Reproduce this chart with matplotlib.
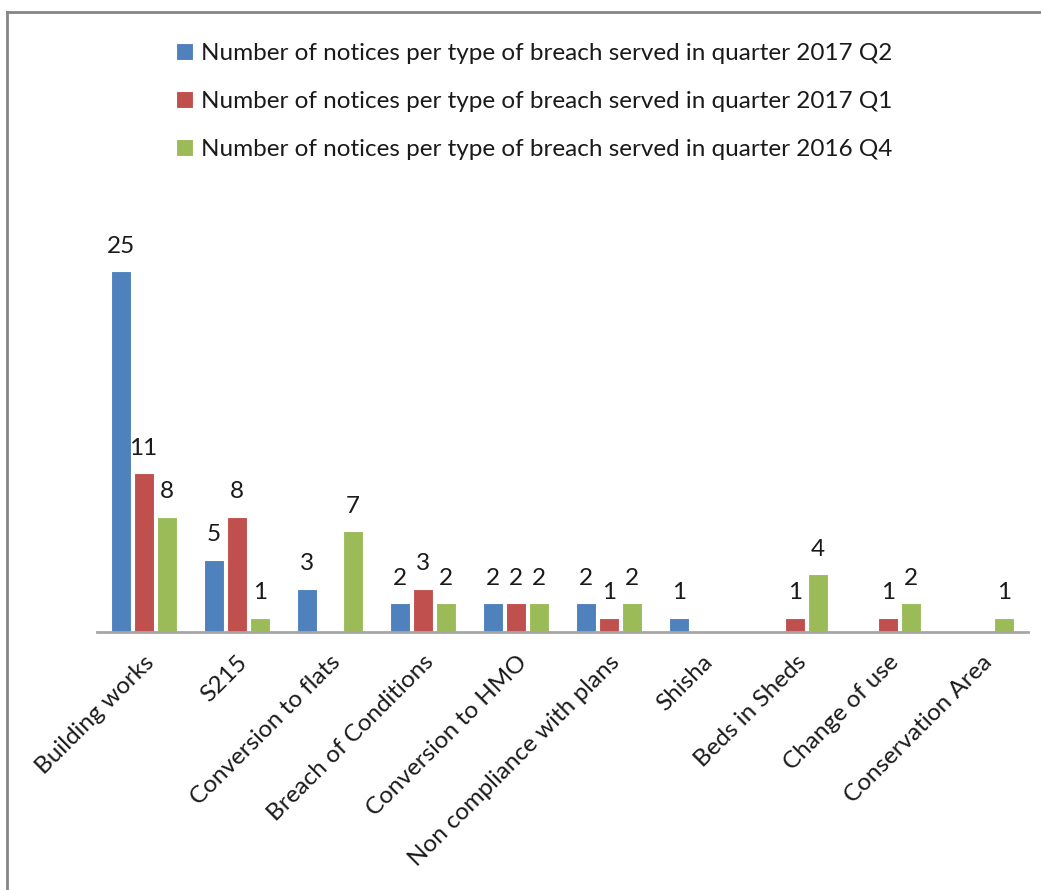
import numpy as np
import matplotlib.pyplot as plt
from matplotlib.lines import Line2D

categories = ["Building works", "S215", "Conversion to flats", "Breach of Conditions",
              "Conversion to HMO", "Non compliance with plans", "Shisha", "Beds in Sheds",
              "Change of use", "Conservation Area"]
q2_2017 = [25, 5, 3, 2, 2, 2, 1, 0, 0, 0]
q1_2017 = [11, 8, 0, 3, 2, 1, 0, 1, 1, 0]
q4_2016 = [8, 1, 7, 2, 2, 2, 0, 4, 2, 1]
series_names = ["Number of notices per type of breach served in quarter 2017 Q2",
                "Number of notices per type of breach served in quarter 2017 Q1",
                "Number of notices per type of breach served in quarter 2016 Q4"]
colors = ["#4F81BD", "#C0504D", "#9BBB59"]

plt.rcParams['font.family'] = ['Lato', 'DejaVu Sans']

fig = plt.figure(figsize=(10.41, 8.9), dpi=100)
ax = fig.add_axes([97/1041, 1 - 632/890, 931/1041, 433/890])

x = np.arange(len(categories))
step = 0.247
handles = []
for i, (vals, name, c) in enumerate(zip([q2_2017, q1_2017, q4_2016], series_names, colors)):
    pos = x + (i - 1) * step
    bars = ax.bar(pos, vals, width=0.215, color=c, edgecolor='white', linewidth=0.8, label=name)
    handles.append(bars)
    for p, v in zip(pos, vals):
        if v > 0:
            ax.text(p, v + 1.0, str(v), ha='center', va='bottom', fontsize=17.5, color='#1a1a1a')

ax.set_xlim(-0.5, len(categories) - 0.5)
ax.set_ylim(0, 30)
ax.set_yticks([])
for s in ['top', 'right', 'left']:
    ax.spines[s].set_visible(False)
ax.spines['bottom'].set_color('#a6a6a6')
ax.spines['bottom'].set_linewidth(2)
ax.set_xticks(x)
ax.set_xticklabels(categories, rotation=45, ha='right', rotation_mode='anchor',
                   fontsize=17.5, color='#1a1a1a')
ax.tick_params(axis='x', length=0, pad=14)

fig.legend(handles=handles, labels=series_names, loc='upper left',
           bbox_to_anchor=(154/1041, 1 - 21/890), frameon=False, fontsize=17.5,
           handlelength=0.7, handleheight=0.7, handletextpad=0.35, labelspacing=1.12,
           labelcolor='#1a1a1a')

# outer chart frame
fig.add_artist(Line2D([7/1041, 7/1041], [0, 1 - 12/890], color='#868686', linewidth=2,
                      transform=fig.transFigure))
fig.add_artist(Line2D([7/1041, 1], [1 - 12/890, 1 - 12/890], color='#868686', linewidth=2,
                      transform=fig.transFigure))

fig.savefig("out.png", dpi=100)
